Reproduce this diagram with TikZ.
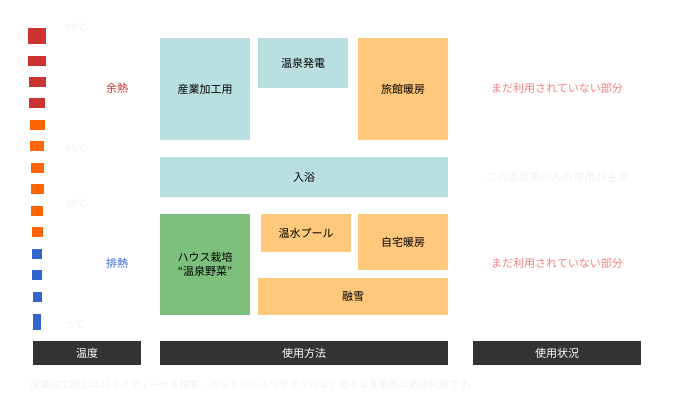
\documentclass[tikz,border=0pt]{standalone}
\usepackage{fontspec}
\setmainfont{Noto Sans CJK JP}
\definecolor{tealbox}{HTML}{B9DFE0}
\definecolor{orangebox}{HTML}{FFC87A}
\definecolor{greenbox}{HTML}{7DC07D}
\definecolor{barfill}{HTML}{333333}
\definecolor{hotred}{HTML}{CC3333}
\definecolor{warmorange}{HTML}{FF6600}
\definecolor{coolblue}{HTML}{3366CC}
\definecolor{pinktext}{HTML}{F08080}
\definecolor{faint}{HTML}{F0F0F0}
\tikzset{
  usebox/.style={inner sep=0pt, font=\fontsize{11}{14}\selectfont, align=center},
  headbar/.style={fill=barfill, text=white, inner sep=0pt, font=\fontsize{11}{13}\selectfont},
  faintlabel/.style={text=faint, font=\fontsize{10}{12}\selectfont, inner sep=0pt},
}
\begin{document}
\begin{tikzpicture}[x=1pt,y=-1pt]

      % Frame
      \useasboundingbox (0,0) rectangle (673,420);

      % Temperature scale
      \foreach \yc/\w/\h/\col in {36/18/16/hotred, 61/18/10/hotred, 82/17/10/hotred, 103/16/10/hotred,
          125/15/10/warmorange, 146/14/10/warmorange, 168/13/10/warmorange, 189/13/10/warmorange,
          211/12/10/warmorange, 232/11/10/warmorange, 254/10/10/coolblue, 275/10/10/coolblue,
          297/9/10/coolblue, 322/8/16/coolblue}
        \fill [\col] (37-\w/2,\yc-\h/2) rectangle (37+\w/2,\yc+\h/2);

      \node [faintlabel] (t99) at (76,28) {99℃};
      \node [faintlabel] (t45) at (76,149) {45℃};
      \node [faintlabel] (t38) at (76,204) {38℃};
      \node [faintlabel] (t5) at (76,325) {5℃};

      \node [text=hotred, font=\fontsize{11}{13}\selectfont] (yonetsu) at (117,88) {余熱};
      \node [text=coolblue, font=\fontsize{11}{13}\selectfont] (hainetsu) at (117,263) {排熱};

      % Uses
      \node [usebox, fill=tealbox, minimum width=90, minimum height=102] (sangyo) at (205,89) {産業加工用};
      \node [usebox, fill=tealbox, minimum width=90, minimum height=50] (hatsuden) at (303,63) {温泉発電};
      \node [usebox, fill=orangebox, minimum width=90, minimum height=102] (ryokan) at (403,89) {旅館暖房};
      \node [usebox, fill=tealbox, minimum width=288, minimum height=40] (nyuyoku) at (304,177) {入浴};
      \node [usebox, fill=greenbox, minimum width=90, minimum height=101] (house) at (205,264.5) {ハウス栽培\\“温泉野菜”};
      \node [usebox, fill=orangebox, minimum width=90, minimum height=38] (pool) at (306,233) {温水プール};
      \node [usebox, fill=orangebox, minimum width=90, minimum height=56] (jitaku) at (403,242) {自宅暖房};
      \node [usebox, fill=orangebox, minimum width=190, minimum height=37] (yusetsu) at (353,296.5) {融雪};

      % Status
      \node [text=pinktext, font=\fontsize{11}{13}\selectfont] (mikatsu1) at (557,88) {まだ利用されていない部分};
      \node [faintlabel, font=\fontsize{11}{13}\selectfont] (shuryu) at (557,177) {この温度帯のみの使用が主流};
      \node [text=pinktext, font=\fontsize{11}{13}\selectfont] (mikatsu2) at (557,263) {まだ利用されていない部分};

      % Headers
      \node [headbar, minimum width=108, minimum height=24] (ondo) at (87,353) {温度};
      \node [headbar, minimum width=288, minimum height=24] (hoho) at (304,353) {使用方法};
      \node [headbar, minimum width=168, minimum height=24] (jokyo) at (557,353) {使用状況};

      \node [faintlabel, anchor=west] (note) at (30,385) {産業加工用とはバイオディーゼル精製、ペットボトルリサイクルなど様々な産業用の熱源利用です。};

\end{tikzpicture}
\end{document}
